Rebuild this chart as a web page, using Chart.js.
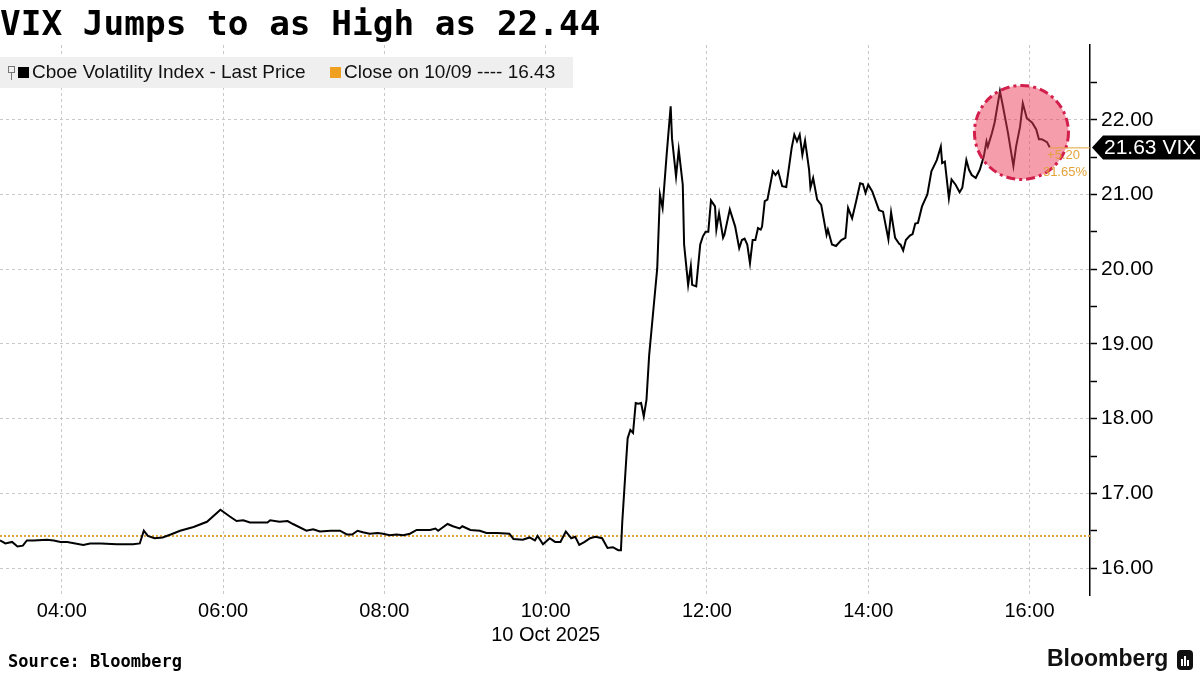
<!DOCTYPE html>
<html>
<head>
<meta charset="utf-8">
<script src="https://cdn.jsdelivr.net/npm/chart.js@4.4.1/dist/chart.umd.min.js"></script>
<style>
  body { margin: 0; background: #fff; width: 1200px; height: 675px; overflow: hidden; position: relative; font-family: "Liberation Sans", Arial, sans-serif; }
  #chart { position: absolute; left: 0; top: 0; }
  .title { position: absolute; left: 0; top: 3px; font: bold 34.4px "DejaVu Sans Mono", monospace; color: #000; }
  .legend { position: absolute; left: 0; top: 57px; width: 573px; height: 31px; background: #efefef; font-size: 19px; color: #111; }
  .legend span { position: absolute; top: 4px; white-space: nowrap; }
  .sq { position: absolute; width: 11px; height: 11px; top: 10px; }
  .pin { position: absolute; left: 8px; top: 9px; width: 5px; height: 5px; border: 1px solid #777; }
  .pin:after { content: ""; position: absolute; left: 2px; top: 6px; width: 1px; height: 7px; background: #777; }
  .source { position: absolute; left: 8px; top: 651px; font: bold 17px "DejaVu Sans Mono", monospace; color: #000; }
  .brand { position: absolute; left: 1047px; top: 645px; font: bold 23px "Liberation Sans", Arial, sans-serif; color: #111; }
  .logo { position: absolute; left: 1177px; top: 650px; width: 16px; height: 20px; background: #111; border-radius: 4px; }
  .logo i { position: absolute; bottom: 4px; width: 2px; background: #fff; }
</style>
</head>
<body>
<canvas id="chart" width="1200" height="675"></canvas>
<div class="title">VIX Jumps to as High as 22.44</div>
<div class="legend">
  <div class="pin"></div>
  <div class="sq" style="left:18px;background:#000"></div>
  <span style="left:32px">Cboe Volatility Index - Last Price</span>
  <div class="sq" style="left:330px;background:#f0a020"></div>
  <span style="left:344px">Close on 10/09 ---- 16.43</span>
</div>
<div class="source">Source: Bloomberg</div>
<div class="brand">Bloomberg</div>
<div class="logo"><i style="left:4px;height:7px"></i><i style="left:7px;height:10px"></i><i style="left:10px;height:6px"></i></div>
<script>
// intraday VIX, 10 Oct 2025
const times = [
  '03:14','03:18','03:23','03:27','03:31','03:34','03:39','03:49','03:54','03:59',
  '04:04','04:16','04:21','04:29','04:41','04:53','04:58','05:01','05:04','05:09',
  '05:15','05:21','05:28','05:38','05:48','05:58','06:05','06:10','06:15','06:20',
  '06:33','06:35','06:42','06:48','06:52','07:02','07:07','07:12','07:20','07:27',
  '07:32','07:36','07:40','07:44','07:49','07:55','07:59','08:04','08:09','08:14',
  '08:19','08:24','08:34','08:38','08:40','08:47','08:51','08:56','08:58','09:04',
  '09:11','09:16','09:24','09:33','09:36','09:43','09:48','09:52','09:54','09:58',
  '10:03','10:07','10:11','10:15','10:19','10:22','10:25','10:29','10:33','10:37',
  '10:42','10:46','10:50','10:54','10:56','10:57','11:00','11:01','11:03','11:05',
  '11:07','11:09','11:11','11:13','11:15','11:17','11:20','11:23','11:25','11:27',
  '11:30','11:33','11:34','11:37','11:39','11:42','11:43','11:46','11:48','11:49',
  '11:52','11:55','11:57','11:59','12:01','12:03','12:06','12:07','12:09','12:12',
  '12:13','12:17','12:21','12:24','12:26','12:28','12:30','12:32','12:34','12:36',
  '12:38','12:40','12:41','12:43','12:45','12:49','12:51','12:53','12:56','12:59',
  '13:03','13:05','13:07','13:09','13:11','13:13','13:16','13:17','13:19','13:22',
  '13:25','13:29','13:30','13:33','13:36','13:40','13:43','13:45','13:48','13:51',
  '13:54','13:56','13:58','14:00','14:03','14:08','14:11','14:15','14:17','14:20',
  '14:23','14:24','14:26','14:28','14:31','14:33','14:35','14:37','14:40','14:44',
  '14:47','14:51','14:54','14:55','14:57','15:00','15:02','15:05','15:08','15:10',
  '15:13','15:15','15:17','15:20','15:23','15:26','15:28','15:29','15:32','15:34',
  '15:38','15:40','15:44','15:48','15:50','15:53','15:55','15:58','16:02','16:05',
  '16:07','16:09','16:10','16:13','16:15'
];
const vix = [
  16.37,16.33,16.35,16.29,16.30,16.37,16.37,16.38,16.37,16.35,
  16.35,16.31,16.33,16.33,16.32,16.32,16.33,16.50,16.43,16.40,
  16.41,16.45,16.50,16.55,16.62,16.78,16.69,16.63,16.64,16.61,
  16.61,16.64,16.62,16.63,16.59,16.50,16.52,16.49,16.50,16.50,
  16.45,16.45,16.50,16.48,16.46,16.47,16.46,16.44,16.45,16.44,
  16.46,16.51,16.51,16.53,16.50,16.59,16.56,16.53,16.56,16.51,
  16.50,16.47,16.47,16.46,16.39,16.38,16.41,16.37,16.43,16.32,
  16.40,16.35,16.35,16.49,16.40,16.42,16.31,16.35,16.40,16.42,
  16.40,16.27,16.28,16.24,16.24,16.62,17.47,17.74,17.85,17.81,
  18.21,18.20,18.21,18.03,18.25,18.85,19.43,20.01,21.00,20.82,
  21.53,22.18,21.75,21.24,21.60,21.13,20.33,19.79,20.04,19.79,
  19.77,20.33,20.44,20.50,20.50,20.92,20.84,20.53,20.75,20.42,
  20.46,20.80,20.57,20.28,20.39,20.41,20.33,20.08,20.39,20.39,
  20.55,20.53,20.57,20.91,20.93,21.31,21.26,21.31,21.11,21.10,
  21.62,21.80,21.71,21.80,21.53,21.72,21.33,21.09,21.22,20.93,
  20.86,20.46,20.53,20.33,20.31,20.39,20.42,20.82,20.68,20.91,
  21.15,21.14,21.02,21.13,21.04,20.79,20.77,20.40,20.76,20.42,
  20.34,20.33,20.25,20.39,20.45,20.47,20.61,20.62,20.84,21.00,
  21.31,21.46,21.64,21.42,21.44,20.95,21.20,21.13,21.03,21.09,
  21.46,21.33,21.26,21.22,21.33,21.51,21.71,21.64,21.82,21.96,
  22.38,22.20,21.82,21.38,21.64,21.91,22.22,22.02,21.96,21.87,
  21.74,21.74,21.73,21.70,21.63
];
const prevClose = 16.43;
const lastPrice = 21.63;
const xTickLabels = ['04:00', '06:00', '08:00', '10:00', '12:00', '14:00', '16:00'];
const dateLabel = '10 Oct 2025';
const dateUnder = '10:00';
const yTickValues = [16, 16.5, 17, 17.5, 18, 18.5, 19, 19.5, 20, 20.5, 21, 21.5, 22, 22.5];
const highlightAt = ['15:54', 21.83];

function toMin(s) { return +s.slice(0, 2) * 60 + +s.slice(3, 5); }
function fmt(m) { const h = Math.floor(m / 60), mm = m % 60; return String(h).padStart(2, '0') + ':' + String(mm).padStart(2, '0'); }

const xMin = toMin('03:14'), xMax = toMin('16:45');
const orange = '#e3a33a';

Chart.defaults.font.family = '"Liberation Sans", Arial, sans-serif';
Chart.defaults.color = '#000';

const overlay = {
  id: 'overlay',
  afterDatasetsDraw(chart) {
    const { ctx, scales: { x, y } } = chart;
    const cx = x.getPixelForValue(toMin(highlightAt[0]));
    const cy = y.getPixelForValue(highlightAt[1]);
    ctx.save();
    ctx.beginPath();
    ctx.arc(cx, cy, 47, 0, Math.PI * 2);
    ctx.fillStyle = 'rgba(238, 60, 90, 0.5)';
    ctx.fill();
    ctx.setLineDash([9, 4, 3, 4]);
    ctx.lineWidth = 3;
    ctx.strokeStyle = '#d21f4b';
    ctx.stroke();
    ctx.restore();
  },
  afterDraw(chart) {
    const { ctx, chartArea, scales: { x, y } } = chart;
    const ly = y.getPixelForValue(lastPrice);
    const lx = x.getPixelForValue(toMin(times[times.length - 1]));
    ctx.save();
    // connector from last point to axis
    ctx.strokeStyle = orange;
    ctx.lineWidth = 1;
    ctx.beginPath();
    ctx.moveTo(lx, ly + 0.5);
    ctx.lineTo(chartArea.right, ly + 0.5);
    ctx.stroke();
    // change text
    const chg = lastPrice - prevClose;
    ctx.fillStyle = orange;
    ctx.font = '13px "Liberation Sans", Arial, sans-serif';
    ctx.textAlign = 'right';
    ctx.textBaseline = 'middle';
    ctx.fillText('+' + chg.toFixed(2), chartArea.right - 10, ly + 8);
    ctx.fillText((chg / prevClose * 100).toFixed(2) + '%', chartArea.right - 3, ly + 25);
    // last price tag
    const left = chartArea.right + 2;
    ctx.fillStyle = '#000';
    ctx.beginPath();
    ctx.moveTo(left, ly);
    ctx.lineTo(left + 11, ly - 12);
    ctx.lineTo(1200, ly - 12);
    ctx.lineTo(1200, ly + 12);
    ctx.lineTo(left + 11, ly + 12);
    ctx.closePath();
    ctx.fill();
    ctx.fillStyle = '#fff';
    ctx.textAlign = 'left';
    ctx.font = '21px "Liberation Sans", Arial, sans-serif';
    ctx.fillText(lastPrice.toFixed(2) + ' VIX', left + 12, ly + 1);
    ctx.restore();
  }
};

new Chart(document.getElementById('chart'), {
  type: 'line',
  data: {
    datasets: [
      {
        label: 'Cboe Volatility Index - Last Price',
        data: times.map((t, i) => ({ x: toMin(t), y: vix[i] })),
        borderColor: '#000',
        borderWidth: 2,
        pointRadius: 0,
        tension: 0,
        order: 0
      },
      {
        label: 'Close on 10/09',
        data: [{ x: xMin, y: prevClose }, { x: xMax, y: prevClose }],
        borderColor: orange,
        borderWidth: 2,
        borderDash: [2, 2],
        pointRadius: 0,
        order: 1
      }
    ]
  },
  options: {
    responsive: false,
    animation: false,
    devicePixelRatio: 1,
    layout: { padding: { top: 45, bottom: 20, left: 0, right: 0 } },
    plugins: { legend: { display: false }, tooltip: { enabled: false } },
    scales: {
      x: {
        type: 'linear',
        min: xMin,
        max: xMax,
        afterBuildTicks: s => { s.ticks = xTickLabels.map(t => ({ value: toMin(t) })); },
        afterFit: s => { s.height = 60; },
        ticks: {
          font: { size: 20 },
          padding: 4,
          maxRotation: 0,
          callback: v => fmt(v) === dateUnder ? [fmt(v), dateLabel] : fmt(v)
        },
        grid: { color: '#c9c9c9', drawTicks: false },
        border: { display: false, dash: [3, 3] }
      },
      y: {
        position: 'right',
        min: 15.64,
        max: 23.0,
        afterBuildTicks: s => { s.ticks = yTickValues.map(v => ({ value: v })); },
        afterFit: s => { s.width = 110; },
        ticks: {
          font: { size: 21 },
          padding: 4,
          callback: v => Number.isInteger(v) ? v.toFixed(2) : ''
        },
        grid: {
          color: c => (c.tick && Number.isInteger(c.tick.value)) ? '#c9c9c9' : 'rgba(0,0,0,0)',
          tickColor: '#000',
          tickLength: 7,
          tickWidth: 1.5
        },
        border: { display: true, color: '#000', width: 1.5, dash: [3, 3] }
      }
    }
  },
  plugins: [overlay]
});
</script>
</body>
</html>
